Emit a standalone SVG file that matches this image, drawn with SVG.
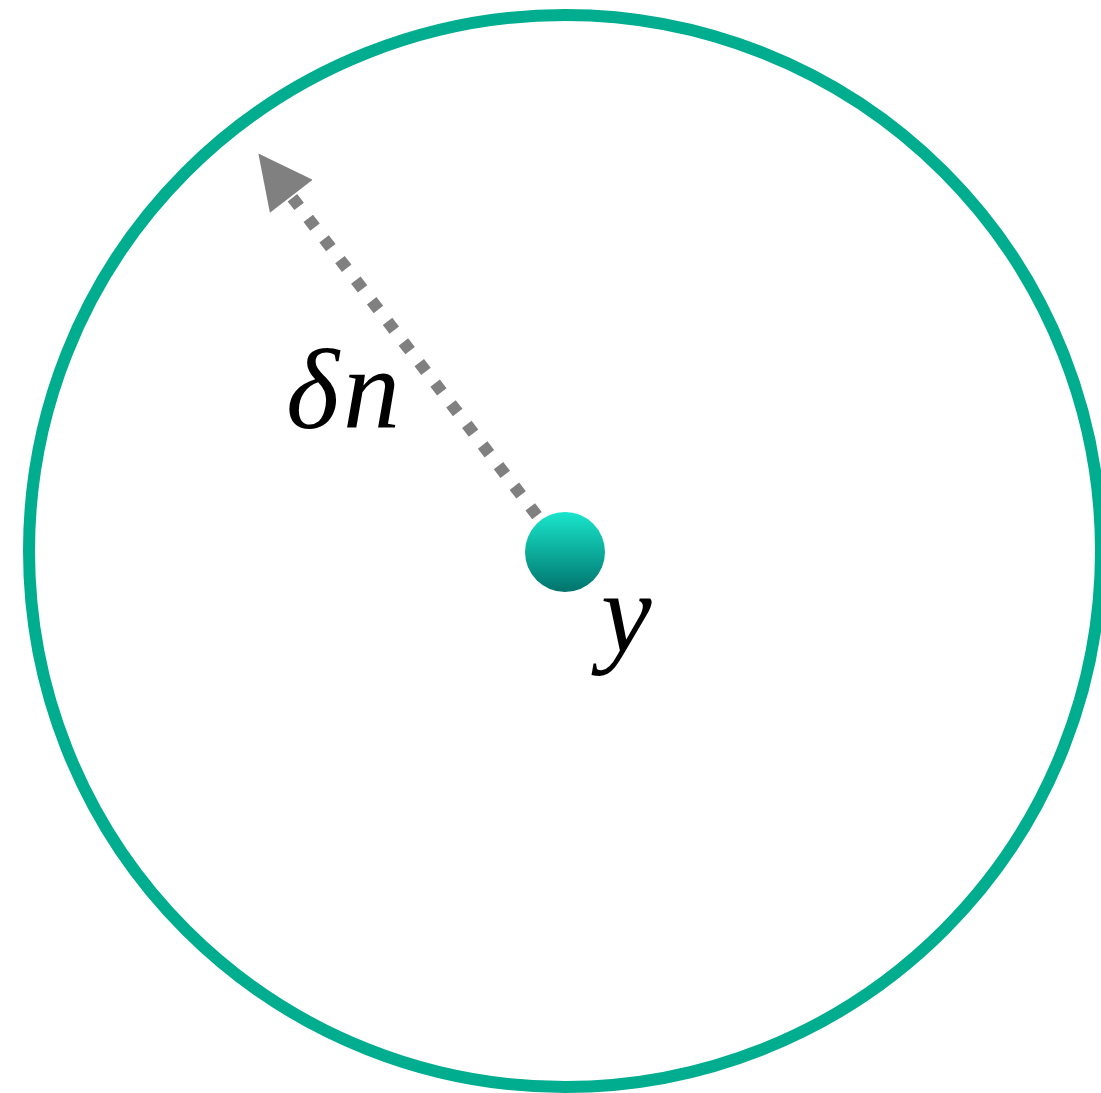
<svg xmlns="http://www.w3.org/2000/svg" width="1101" height="1093" viewBox="0 0 1101 1093">
<defs>
<linearGradient id="ballGrad" x1="0" y1="0" x2="0" y2="1">
<stop offset="0" stop-color="#19e6cc"/>
<stop offset="1" stop-color="#00736c"/>
</linearGradient>
<marker id="arrowHead" viewBox="0 0 10 10" refX="1" refY="5" markerWidth="4.6" markerHeight="4.5" markerUnits="strokeWidth" orient="auto">
<path d="M0,0 L10,5 L0,10 Z" fill="#808080"/>
</marker>
<style>
.lbl{font-family:"Liberation Serif","Times New Roman",serif;font-style:italic;font-size:114px;fill:#000}
</style>
</defs>
<rect width="1101" height="1093" fill="#fff"/>
<g id="boundary">
<circle cx="565" cy="551" r="536" fill="none" stroke="#00ad8e" stroke-width="12"/>
</g>
<g id="connectors">
<line x1="565" y1="552" x2="288" y2="192" stroke="#808080" stroke-width="12" stroke-dasharray="11 15" stroke-dashoffset="6" marker-end="url(#arrowHead)"/>
</g>
<g id="point">
<circle cx="565" cy="552" r="40" fill="url(#ballGrad)"/>
</g>
<g id="labels">
<text class="lbl" x="286" y="428" letter-spacing="4">δn</text>
<text class="lbl" x="601" y="652">y</text>
</g>
</svg>
